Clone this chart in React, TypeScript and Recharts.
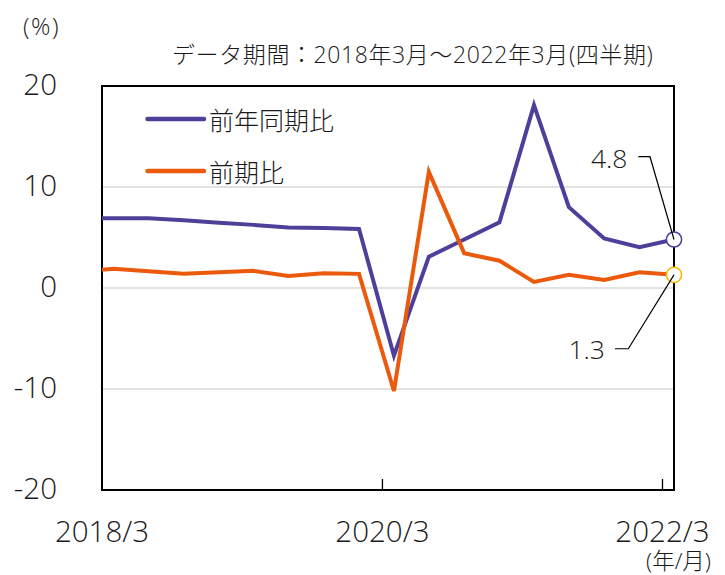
import React from 'react';
import { LineChart, Line, XAxis, YAxis, CartesianGrid, ReferenceArea, ReferenceDot, Legend } from 'recharts';

// ---- data ----
const quarters = [
  '2017/12', '2018/3', '2018/6', '2018/9', '2018/12', '2019/3', '2019/6', '2019/9', '2019/12',
  '2020/3', '2020/6', '2020/9', '2020/12', '2021/3', '2021/6', '2021/9', '2021/12', '2022/3',
];
const yoy = [6.9, 6.9, 6.9, 6.7, 6.45, 6.25, 6.0, 5.95, 5.85, -6.7, 3.1, 4.8, 6.5, 18.1, 8.0, 4.9, 4.05, 4.8];
const qoq = [1.6, 1.9, 1.65, 1.4, 1.55, 1.7, 1.2, 1.45, 1.4, -10.2, 11.5, 3.45, 2.7, 0.6, 1.3, 0.8, 1.55, 1.3];
const seriesNames = ['前年同期比', '前期比'];
const xTickLabels = ['2018/3', '2020/3', '2022/3'];
const yTicks = [-20, -10, 0, 10, 20];
const titleText = 'データ期間：2018年3月～2022年3月(四半期)';
const yUnit = '(%)';
const xUnit = '(年/月)';

// ---- helpers ----
const DAY = 86400000;
const ORIGIN = Date.UTC(2018, 2, 1);
const endOfMonth = (lbl: string) => {
  const [y, m] = lbl.split('/').map(Number);
  return (Date.UTC(y, m, 0) - ORIGIN) / DAY;
};
const startOfMonth = (lbl: string) => {
  const [y, m] = lbl.split('/').map(Number);
  return (Date.UTC(y, m - 1, 1) - ORIGIN) / DAY;
};
const xTickValues = xTickLabels.map(startOfMonth);

const data = quarters.map((q, i) => ({ q, t: endOfMonth(q), yoy: yoy[i], qoq: qoq[i] }));
const last = data[data.length - 1];

const FONT = "'Open Sans', 'Noto Sans CJK JP', sans-serif";
const CJK = "'Noto Sans CJK JP', 'Open Sans', sans-serif";
const WEIGHT = 300;
const TEXT = '#1a1a1a';
const BLUE = '#4f3f9b';
const ORANGE = '#eb5a0c';
const GOLD = '#f6b800';

const YTick = (props: any) => {
  const { x, y, payload } = props;
  return (
    <text x={x - 45} y={y + 8.5} textAnchor="end" fontSize={29.5} fontWeight={WEIGHT} fill={TEXT} fontFamily={FONT}>
      {payload.value}
    </text>
  );
};

const XTick = (props: any) => {
  const { x, y, payload } = props;
  const idx = xTickValues.indexOf(payload.value);
  return (
    <g>
      {idx > 0 && <line x1={x} x2={x} y1={y} y2={y - 11} stroke="#000" strokeWidth={1.3} />}
      <text x={x} y={y + 51.5} textAnchor="middle" fontSize={29.5} fontWeight={WEIGHT} fill={TEXT} fontFamily={FONT}>
        {xTickLabels[idx]}
      </text>
    </g>
  );
};

const makeMarker = (
  stroke: string,
  label: string,
  elbow: [number, number],
  end: [number, number],
  text: [number, number]
) => (props: any) => {
  const { cx, cy } = props;
  return (
    <g>
      <circle cx={cx} cy={cy} r={7.6} fill="#fff" stroke={stroke} strokeWidth={1.5} />
      <polyline
        points={`${cx},${cy} ${cx + elbow[0]},${cy + elbow[1]} ${cx + end[0]},${cy + end[1]}`}
        fill="none"
        stroke="#000"
        strokeWidth={1.2}
      />
      <text x={cx + text[0]} y={cy + text[1]} textAnchor="end" fontSize={26.5} fontWeight={WEIGHT} fill={TEXT} fontFamily={FONT}>
        {label}
      </text>
    </g>
  );
};

const renderLegend = (props: any) => {
  const { payload } = props;
  return (
    <div>
      {(payload || []).map((entry: any, i: number) => (
        <div key={i} style={{ display: 'flex', alignItems: 'center', height: 52 }}>
          <svg width={62} height={10} style={{ display: 'block' }}>
            <line x1={2.5} x2={59} y1={5} y2={5} stroke={entry.color} strokeWidth={4.5} strokeLinecap="round" />
          </svg>
          <span style={{ fontSize: 25, marginLeft: 2, lineHeight: '52px', color: TEXT, fontFamily: CJK, fontWeight: WEIGHT }}>
            {entry.value}
          </span>
        </div>
      ))}
    </div>
  );
};

export default function App() {
  return (
    <div style={{ position: 'absolute', left: 0, top: 0, width: 725, height: 575, background: '#fff' }}>
      <LineChart width={725} height={575} data={data} margin={{ top: 86, right: 51, bottom: 25, left: 42 }}>
        <CartesianGrid vertical={false} stroke="#d9d9d9" strokeWidth={1.5} />
        <XAxis
          type="number"
          dataKey="t"
          domain={[xTickValues[0], 'dataMax']}
          allowDataOverflow
          ticks={xTickValues}
          interval={0}
          tick={<XTick />}
          tickSize={0}
          tickMargin={0}
          tickLine={false}
          axisLine={false}
          height={60}
        />
        <YAxis
          type="number"
          domain={[yTicks[0], yTicks[yTicks.length - 1]]}
          ticks={yTicks}
          interval={0}
          tick={<YTick />}
          tickSize={0}
          tickMargin={0}
          tickLine={false}
          axisLine={false}
          width={60}
        />
        <Legend
          layout="vertical"
          align="center"
          verticalAlign="middle"
          content={renderLegend}
          wrapperStyle={{ left: 145, top: 93, width: 'auto' }}
        />
        <ReferenceArea
          x1={xTickValues[0]}
          x2={last.t}
          y1={yTicks[0]}
          y2={yTicks[yTicks.length - 1]}
          fill="none"
          fillOpacity={0}
          stroke="#000"
          strokeWidth={2}
        />
        <Line
          type="linear"
          dataKey="yoy"
          name={seriesNames[0]}
          stroke={BLUE}
          strokeWidth={4}
          dot={false}
          activeDot={false}
          isAnimationActive={false}
        />
        <Line
          type="linear"
          dataKey="qoq"
          name={seriesNames[1]}
          stroke={ORANGE}
          strokeWidth={4}
          dot={false}
          activeDot={false}
          isAnimationActive={false}
        />
        <ReferenceDot
          x={last.t}
          y={last.yoy}
          r={7.6}
          shape={makeMarker(BLUE, last.yoy.toFixed(1), [-24, -82.8], [-35.7, -82.8], [-46.5, -71.5])}
        />
        <ReferenceDot
          x={last.t}
          y={last.qoq}
          r={7.6}
          shape={makeMarker(GOLD, last.qoq.toFixed(1), [-45.7, 73.9], [-59, 73.9], [-69, 84.2])}
        />
      </LineChart>
      <svg
        width={725}
        height={575}
        style={{ position: 'absolute', left: 0, top: 0, pointerEvents: 'none' }}
      >
        <text x={23} y={35} fontSize={24} fontWeight={WEIGHT} fill={TEXT} fontFamily={FONT} letterSpacing={1.5}>
          {yUnit}
        </text>
        <text x={172} y={63} fontSize={23} fontWeight={WEIGHT} fill={TEXT} fontFamily={FONT} letterSpacing={0.6}>
          {titleText}
        </text>
        <text x={711} y={569} textAnchor="end" fontSize={22.5} fontWeight={WEIGHT} fill={TEXT} fontFamily={FONT}>
          {xUnit}
        </text>
      </svg>
    </div>
  );
}
